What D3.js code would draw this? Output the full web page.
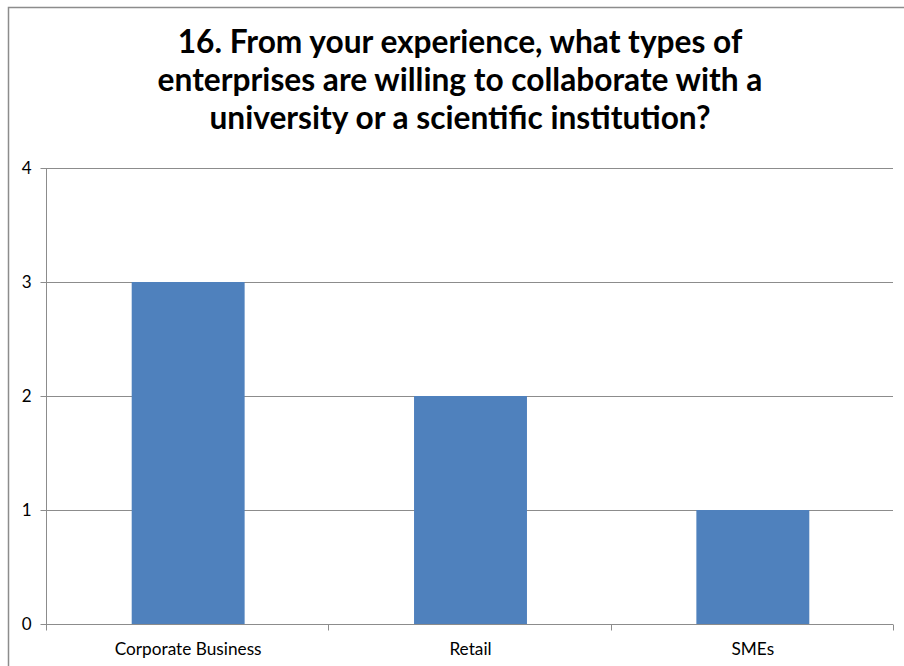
<!DOCTYPE html>
<html><head><meta charset="utf-8">
<script src="https://cdn.jsdelivr.net/npm/d3@7"></script>
<style>body{margin:0;background:#fff}svg{display:block}</style>
</head><body>
<script>
const categories = ["Corporate Business", "Retail", "SMEs"];
const values = [3, 2, 1];
const yTicks = [0, 1, 2, 3, 4];
const titleLines = ["16. From your experience, what types of", "enterprises are willing to collaborate with a", "university or a scientific institution?"];

const W = 904, H = 666;
const svg = d3.select("body").append("svg").attr("width", W).attr("height", H);
svg.append("rect").attr("x", 8.5).attr("y", 7.5).attr("width", 920).attr("height", 700)
  .attr("fill", "#fff").attr("stroke", "#8c8c8c").attr("stroke-width", 1.5);

const font = "Lato, 'Open Sans', sans-serif";
const x = d3.scaleBand().domain(categories).range([46, 893]).padding(0);
const y = d3.scaleLinear().domain([0, 4]).range([624, 168]);

// gridlines
svg.append("g").selectAll("line").data(yTicks.filter(d => d > 0)).join("line")
  .attr("x1", 46).attr("x2", 893).attr("y1", d => Math.round(y(d)) + 0.5).attr("y2", d => Math.round(y(d)) + 0.5)
  .attr("stroke", "#8c8c8c").attr("stroke-width", 1);

// bars
const bw = x.bandwidth() * 0.4;
svg.append("g").selectAll("rect").data(categories).join("rect")
  .attr("x", (d) => x(d) + (x.bandwidth() - bw) / 2 + 1)
  .attr("y", (d, i) => y(values[i]))
  .attr("width", bw)
  .attr("height", (d, i) => y(0) - y(values[i]))
  .attr("fill", "#4f81bd");

// y axis
const yAxis = d3.axisLeft(y).tickValues(yTicks).tickSize(6).tickPadding(9).tickFormat(d3.format("d"));
const gy = svg.append("g").attr("transform", "translate(46.5,0)").call(yAxis);
gy.select(".domain").attr("stroke", "#8c8c8c").attr("d", "M0,168V624");
gy.selectAll(".tick line").attr("stroke", "#8c8c8c");
gy.selectAll(".tick text").attr("font-family", font).attr("font-size", 17).attr("fill", "#000");

// x axis
const gx = svg.append("g").attr("transform", "translate(0,624.5)");
gx.append("line").attr("x1", 46).attr("x2", 893).attr("stroke", "#8c8c8c");
const bounds = categories.map(d => x(d)).concat([893]);
gx.selectAll("line.t").data(bounds).join("line").attr("class", "t")
  .attr("x1", d => Math.round(d) + 0.5).attr("x2", d => Math.round(d) + 0.5).attr("y1", 0).attr("y2", 6)
  .attr("stroke", "#8c8c8c");
const xl = gx.selectAll("text").data(categories).join("text")
  .attr("x", d => x(d) + x.bandwidth() / 2 + 1).attr("y", 30)
  .attr("text-anchor", "middle").attr("font-family", font).attr("font-size", 15).attr("fill", "#000")
  .text(d => d);
const wl = xl.nodes()[0].getComputedTextLength();
xl.attr("font-size", 15 * 147 / wl);

// title
const tg = svg.append("g");
const tl = tg.selectAll("text").data(titleLines).join("text")
  .attr("x", 460).attr("y", (d, i) => 53 + i * 38)
  .attr("text-anchor", "middle").attr("font-family", font).attr("font-weight", "bold")
  .attr("font-size", 30).attr("fill", "#000").text(d => d);
const w2 = tl.nodes()[1].getComputedTextLength();
const fs = 30 * 605 / w2;
tl.attr("font-size", fs);
</script>
</body></html>
